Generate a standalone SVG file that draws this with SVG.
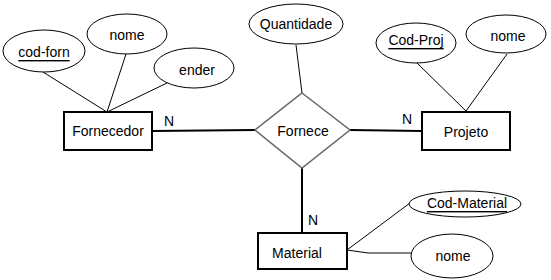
<svg xmlns="http://www.w3.org/2000/svg" width="551" height="280" viewBox="0 0 551 280">
<style>
text{font-family:"Liberation Sans",Arial,sans-serif;font-size:14px;fill:#000;text-anchor:middle;dominant-baseline:central}
.ent{fill:#fff;stroke:#000;stroke-width:2}
.att{fill:#fff;stroke:#000;stroke-width:1}
.rel{fill:#fff;stroke:#666;stroke-width:1.5}
.ln{stroke:#000;stroke-width:1;fill:none}
.lnb{stroke:#000;stroke-width:2;fill:none}
.card{text-anchor:start}
</style>
<rect width="551" height="280" fill="#fff"/>
<g id="connectors">
<line class="ln" x1="43" y1="72" x2="107" y2="112"/>
<line class="ln" x1="126" y1="54" x2="107" y2="112"/>
<line class="ln" x1="167" y1="83" x2="107" y2="112"/>
<line class="lnb" x1="152" y1="131" x2="255" y2="130"/>
<line class="ln" x1="296" y1="45" x2="302" y2="93"/>
<line class="lnb" x1="350" y1="130" x2="422" y2="131"/>
<line class="ln" x1="417" y1="63" x2="466" y2="111"/>
<line class="ln" x1="507" y1="54" x2="466" y2="111"/>
<line class="lnb" x1="302" y1="168" x2="302" y2="233"/>
<line class="ln" x1="347" y1="250" x2="410" y2="203"/>
<polyline class="ln" points="347,250 368,253 412,253"/>
<text class="card" x="164" y="121">N</text>
<text class="card" x="402" y="119">N</text>
<text class="card" x="308" y="220">N</text>
</g>
<g id="fornecedor">
<rect class="ent" x="64" y="112" width="88" height="38"/>
<text x="108" y="131">Fornecedor</text>
</g>
<g id="cod-forn">
<ellipse class="att" cx="44" cy="51" rx="41" ry="21"/>
<text x="44" y="52" text-decoration="underline">cod-forn</text>
</g>
<g id="nome-forn">
<ellipse class="att" cx="127" cy="34" rx="40" ry="20"/>
<text x="127" y="35">nome</text>
</g>
<g id="ender">
<ellipse class="att" cx="194" cy="68" rx="40" ry="20"/>
<text x="197" y="70">ender</text>
</g>
<g id="fornece">
<polygon class="rel" points="302,93 350,130 302,168 255,130"/>
<text x="303" y="131">Fornece</text>
</g>
<g id="quantidade">
<ellipse class="att" cx="296" cy="24" rx="47" ry="20"/>
<text x="296" y="24">Quantidade</text>
</g>
<g id="projeto">
<rect class="ent" x="422" y="112" width="88" height="38"/>
<text x="466" y="132">Projeto</text>
</g>
<g id="cod-proj">
<ellipse class="att" cx="416" cy="43" rx="40" ry="20"/>
<text x="416" y="40" text-decoration="underline">Cod-Proj</text>
</g>
<g id="nome-proj">
<ellipse class="att" cx="506" cy="34" rx="40" ry="19"/>
<text x="508" y="36">nome</text>
</g>
<g id="material">
<rect class="ent" x="258" y="233" width="89" height="36"/>
<text x="297" y="253">Material</text>
</g>
<g id="cod-material">
<ellipse class="att" cx="465" cy="204" rx="56" ry="13"/>
<text x="467" y="203" text-decoration="underline">Cod-Material</text>
</g>
<g id="nome-material">
<ellipse class="att" cx="452" cy="256" rx="41" ry="22"/>
<text x="453" y="256">nome</text>
</g>
</svg>
